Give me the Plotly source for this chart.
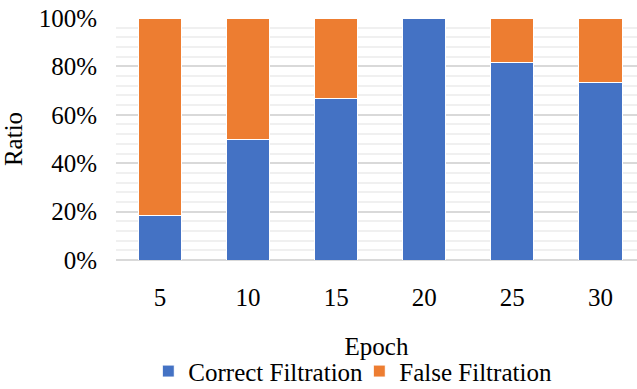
import plotly.graph_objects as go

# Filtration outcome per training epoch (share of samples)
epochs = ["5", "10", "15", "20", "25", "30"]
correct = [0.182, 0.50, 0.667, 1.00, 0.818, 0.733]
false = [0.818, 0.50, 0.333, 0.00, 0.182, 0.267]

BLUE = "#4472C4"
ORANGE = "#ED7D31"
serif = dict(family="Liberation Serif", size=25, color="#000000")

fig = go.Figure()
fig.add_trace(go.Bar(
    x=epochs, y=correct, name="Correct Filtration",
    marker=dict(color=BLUE, line=dict(color="white", width=1)),
))
fig.add_trace(go.Bar(
    x=epochs, y=false, name="False Filtration",
    marker=dict(color=ORANGE, line=dict(color="white", width=1)),
))

fig.update_layout(
    template="none",
    width=637, height=389,
    barmode="stack", bargap=0.51,
    plot_bgcolor="white", paper_bgcolor="white",
    margin=dict(l=116, r=0, t=18, b=129, autoexpand=False),
    font=serif,
    showlegend=True,
    legend=dict(
        orientation="h", x=0.467, xanchor="center", y=-0.46, yanchor="middle",
        font=serif, itemclick=False, bgcolor="rgba(0,0,0,0)",
        traceorder="normal", entrywidth=166, entrywidthmode="pixels",
    ),
)
fig.update_xaxes(
    type="category", range=[-0.5, 5.415],
    showgrid=False, showline=False, zeroline=False, ticks="",
    ticklabelstandoff=20, tickfont=serif,
    title=dict(text="Epoch", standoff=27, font=serif),
)
fig.update_yaxes(
    range=[0, 1.0], tickformat=".0%", dtick=0.2, tick0=0,
    showgrid=True, gridcolor="#D9D9D9", gridwidth=1.5,
    minor=dict(dtick=0.04, showgrid=True, gridcolor="#F0F0F0", gridwidth=1.5),
    zeroline=True, zerolinecolor="#D9D9D9", zerolinewidth=1.5, showline=False,
    ticks="", ticklabelstandoff=18, tickfont=serif,
    title=dict(text="Ratio", standoff=10, font=serif),
)

fig.write_html("out.html")
